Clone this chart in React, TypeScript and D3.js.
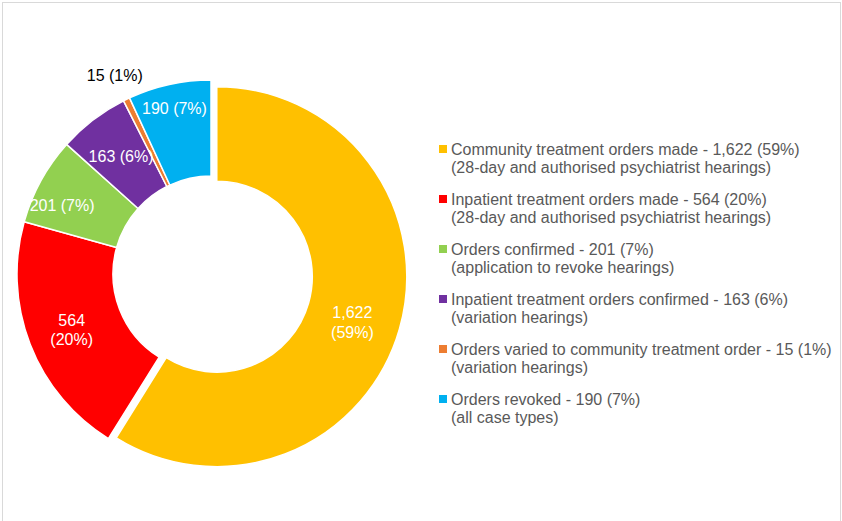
import React from "react";
import * as d3 from "d3";

const categories = [
  "Community treatment orders made",
  "Inpatient treatment orders made",
  "Orders confirmed",
  "Inpatient treatment orders confirmed",
  "Orders varied to community treatment order",
  "Orders revoked",
];
const subLabels = [
  "(28-day and authorised psychiatrist hearings)",
  "(28-day and authorised psychiatrist hearings)",
  "(application to revoke hearings)",
  "(variation hearings)",
  "(variation hearings)",
  "(all case types)",
];
const values = [1622, 564, 201, 163, 15, 190];
const percentLabels = ["59%", "20%", "7%", "6%", "1%", "7%"];
const colors = ["#FFC000", "#FF0000", "#92D050", "#7030A0", "#ED7D31", "#00B0F0"];

const W = 842;
const H = 521;
const FONT = "'Liberation Sans', Arial, sans-serif";

export default function App() {
  const cx = 211;
  const cy = 274;
  const R = 194;
  const r0 = 98;
  const explodeR = 190;
  const explodeInner = 95.5;
  const explodeDist = 6;

  const pie = d3.pie<number>().sort(null).value((d) => d);
  const arcsData = pie(values);
  const fmt = d3.format(",");

  const labelCfg = [
    { r: 143, da: 0.044, two: true, inside: true },
    { r: 150, da: -0.01, two: true, inside: true },
    { r: 164, da: -0.07, two: false, inside: true },
    { r: 148, da: 0, two: false, inside: true },
    { r: 221, da: 0, two: false, inside: false },
    { r: 170, da: 0, two: false, inside: true },
  ];

  const slices = arcsData.map((a, i) => {
    const exploded = i === 0;
    const mid = (a.startAngle + a.endAngle) / 2;
    const ox = exploded ? explodeDist * Math.sin(mid) * 0.95 + 0.3 : 0;
    const oy = exploded ? -explodeDist * Math.cos(mid) * 1.6 : 0;
    const arcGen = d3
      .arc<d3.PieArcDatum<number>>()
      .innerRadius(exploded ? explodeInner : r0)
      .outerRadius(exploded ? explodeR : R);
    return { a, i, ox, oy, path: arcGen(a) as string, mid };
  });

  const legendX = 439;
  const legendY0 = 145;
  const legendStep = 50;
  const fs = 16;

  return (
    <svg
      width={W}
      height={H}
      style={{ position: "absolute", left: 0, top: 0, background: "#fff" }}
      fontFamily={FONT}
    >
      <rect x={0} y={0} width={W} height={H} fill="#fff" />
      <rect x={2.5} y={2.5} width={838} height={H + 10} fill="none" stroke="#D9D9D9" strokeWidth={1} />
      <g transform={`translate(${cx},${cy})`}>
        {slices.map((s) => (
          <path
            key={s.i}
            d={s.path}
            transform={`translate(${s.ox},${s.oy})`}
            fill={colors[s.i]}
            stroke="#fff"
            strokeWidth={1.5}
            strokeLinejoin="round"
          />
        ))}
        {slices.map((s) => {
          const cfg = labelCfg[s.i];
          const ang = s.mid + cfg.da;
          const x = s.ox + cfg.r * Math.sin(ang);
          const y = s.oy - cfg.r * Math.cos(ang);
          const v = fmt(values[s.i]);
          const p = `(${percentLabels[s.i]})`;
          const fill = cfg.inside ? "#fff" : "#000";
          return cfg.two ? (
            <text key={s.i} x={x} y={y} textAnchor="middle" fontSize={fs} fill={fill}>
              <tspan x={x} dy="-0.25em">{v}</tspan>
              <tspan x={x} dy="1.22em">{p}</tspan>
            </text>
          ) : (
            <text key={s.i} x={x} y={y} dy="0.35em" textAnchor="middle" fontSize={fs} fill={fill}>
              {`${v} ${p}`}
            </text>
          );
        })}
      </g>
      <g>
        {categories.map((c, i) => {
          const y = legendY0 + i * legendStep;
          return (
            <g key={i}>
              <rect x={legendX} y={y} width={8} height={8} fill={colors[i]} />
              <text x={legendX + 12} y={y + 10} fontSize={fs} fill="#595959">
                {`${c} - ${fmt(values[i])} (${percentLabels[i]})`}
              </text>
              <text x={legendX + 12} y={y + 27.5} fontSize={fs} fill="#595959">
                {subLabels[i]}
              </text>
            </g>
          );
        })}
      </g>
    </svg>
  );
}
